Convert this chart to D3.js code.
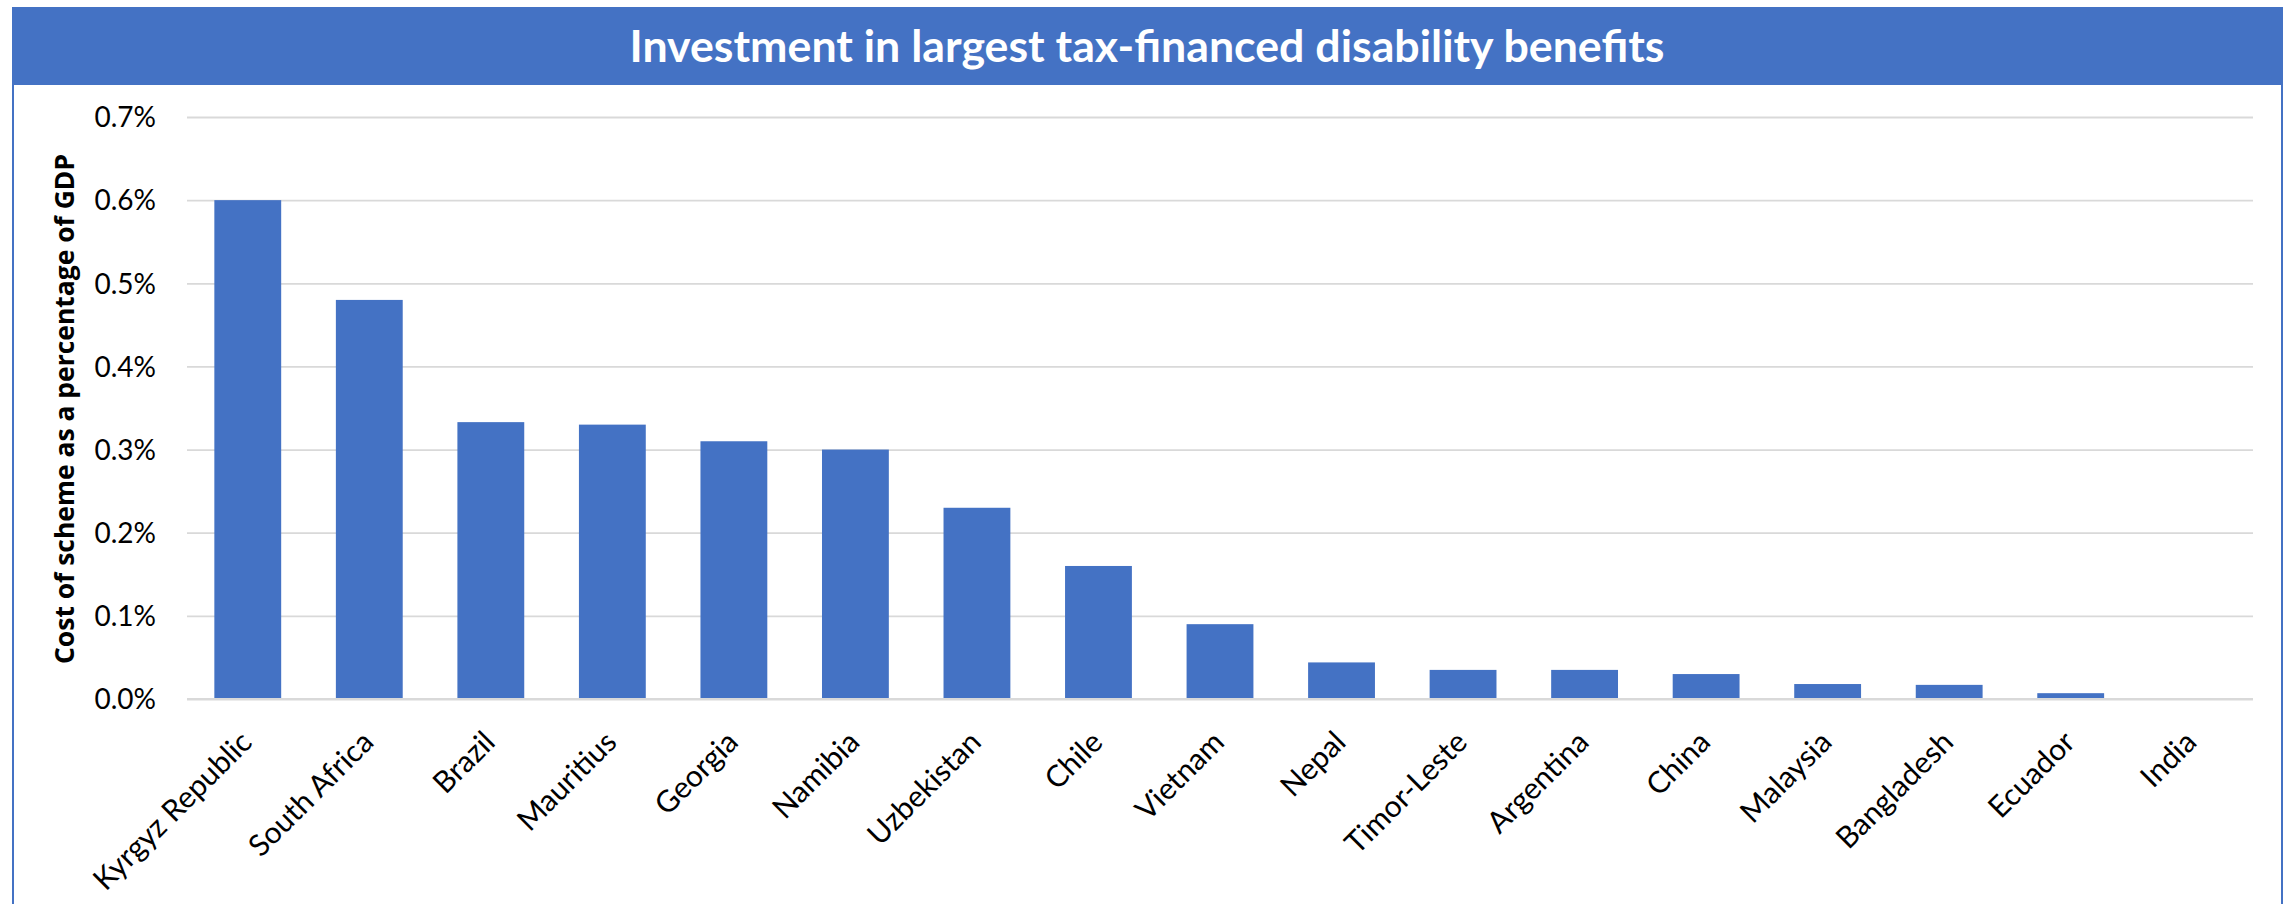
<!DOCTYPE html>
<html>
<head>
<meta charset="utf-8">
<script src="https://cdn.jsdelivr.net/npm/d3@7"></script>
<style>
  html, body { margin: 0; padding: 0; background: #ffffff; }
  svg { display: block; }
</style>
</head>
<body>
<svg id="chart" width="2292" height="904"></svg>
<script>
// Cost of each scheme, as a share of GDP (fraction: 0.006 = 0.6%)
const countries = ["Kyrgyz Republic", "South Africa", "Brazil", "Mauritius", "Georgia", "Namibia",
  "Uzbekistan", "Chile", "Vietnam", "Nepal", "Timor-Leste", "Argentina", "China", "Malaysia",
  "Bangladesh", "Ecuador", "India"];
const costShare = [0.0060, 0.0048, 0.00333, 0.0033, 0.0031, 0.0030, 0.0023, 0.0016, 0.0009,
  0.00044, 0.00035, 0.00035, 0.00030, 0.00018, 0.00017, 0.00007, 0.00001];
const yTicks = [0, 0.001, 0.002, 0.003, 0.004, 0.005, 0.006, 0.007];

const titleText = "Investment in largest tax-financed disability benefits";
const yTitleText = "Cost of scheme as a percentage of GDP";

const blue = "#4472C4";
const grid = "#D9D9D9";
const textFont = "Lato, Carlito, Calibri, 'Liberation Sans', sans-serif";

const svg = d3.select("#chart");

// frame: title banner plus thin side rules
svg.append("rect")
  .attr("x", 12).attr("y", 7).attr("width", 2271).attr("height", 78)
  .attr("fill", blue);
svg.append("line")
  .attr("x1", 13).attr("x2", 13).attr("y1", 85).attr("y2", 904)
  .attr("stroke", blue).attr("stroke-width", 2);
svg.append("line")
  .attr("x1", 2282).attr("x2", 2282).attr("y1", 85).attr("y2", 904)
  .attr("stroke", blue).attr("stroke-width", 2);

// fit a text element to a target length by scaling its font size
function fitText(sel, target) {
  const node = sel.node();
  const fs = parseFloat(sel.attr("font-size"));
  const w = node.getComputedTextLength();
  if (w > 0) sel.attr("font-size", (fs * target / w).toFixed(2));
  sel.attr("textLength", target).attr("lengthAdjust", "spacingAndGlyphs");
}

const title = svg.append("text")
  .attr("x", 1147).attr("y", 62)
  .attr("text-anchor", "middle")
  .attr("fill", "#ffffff")
  .attr("font-family", textFont)
  .attr("font-weight", "bold")
  .attr("font-size", 42)
  .text(titleText);
fitText(title, 1035);

// scales
const x = d3.scaleBand()
  .domain(countries)
  .range([187, 2253])
  .paddingInner(0.45)
  .paddingOuter(0.225);

const y = d3.scaleLinear()
  .domain([0, 0.007])
  .range([699, 117]);

// horizontal gridlines
const gridAxis = d3.axisLeft(y)
  .tickValues(yTicks)
  .tickSize(-(2253 - 187))
  .tickFormat("");
const gridG = svg.append("g")
  .attr("transform", "translate(187,0)")
  .call(gridAxis);
gridG.select(".domain").remove();
gridG.selectAll(".tick line")
  .attr("stroke", grid)
  .attr("stroke-width", 1.8);

// y tick labels
const yAxis = d3.axisLeft(y)
  .tickValues(yTicks)
  .tickSize(0)
  .tickPadding(31)
  .tickFormat(d3.format(".1%"));
const yG = svg.append("g")
  .attr("transform", "translate(187,0)")
  .call(yAxis);
yG.select(".domain").remove();
yG.selectAll(".tick text")
  .attr("font-family", textFont)
  .attr("font-size", 28)
  .attr("fill", "#000000")
  .attr("dy", "0.35em");

// y axis title
const yTitle = svg.append("text")
  .attr("transform", "translate(74,409) rotate(-90)")
  .attr("text-anchor", "middle")
  .attr("fill", "#000000")
  .attr("font-family", "'Open Sans', 'DejaVu Sans', sans-serif")
  .attr("font-weight", "bold")
  .attr("font-size", 23)
  .text(yTitleText);
fitText(yTitle, 510);

// bars
svg.append("g")
  .selectAll("rect")
  .data(countries.map((c, i) => ({ country: c, value: costShare[i] })))
  .join("rect")
  .attr("x", d => x(d.country))
  .attr("width", x.bandwidth())
  .attr("y", d => y(d.value))
  .attr("height", d => y(0) - y(d.value))
  .attr("fill", blue);

// baseline (category axis line)
svg.append("line")
  .attr("x1", 187).attr("x2", 2253)
  .attr("y1", y(0)).attr("y2", y(0))
  .attr("stroke", grid).attr("stroke-width", 2);

// category labels, rotated
const xAxis = d3.axisBottom(x).tickSize(0);
const xG = svg.append("g")
  .attr("transform", `translate(0,${y(0)})`)
  .call(xAxis);
xG.select(".domain").remove();
xG.selectAll(".tick text")
  .attr("x", 0).attr("y", 0).attr("dy", 0)
  .attr("transform", "translate(6,45) rotate(-45)")
  .attr("text-anchor", "end")
  .attr("font-family", textFont)
  .attr("font-size", 30)
  .attr("fill", "#000000");
</script>
</body>
</html>
